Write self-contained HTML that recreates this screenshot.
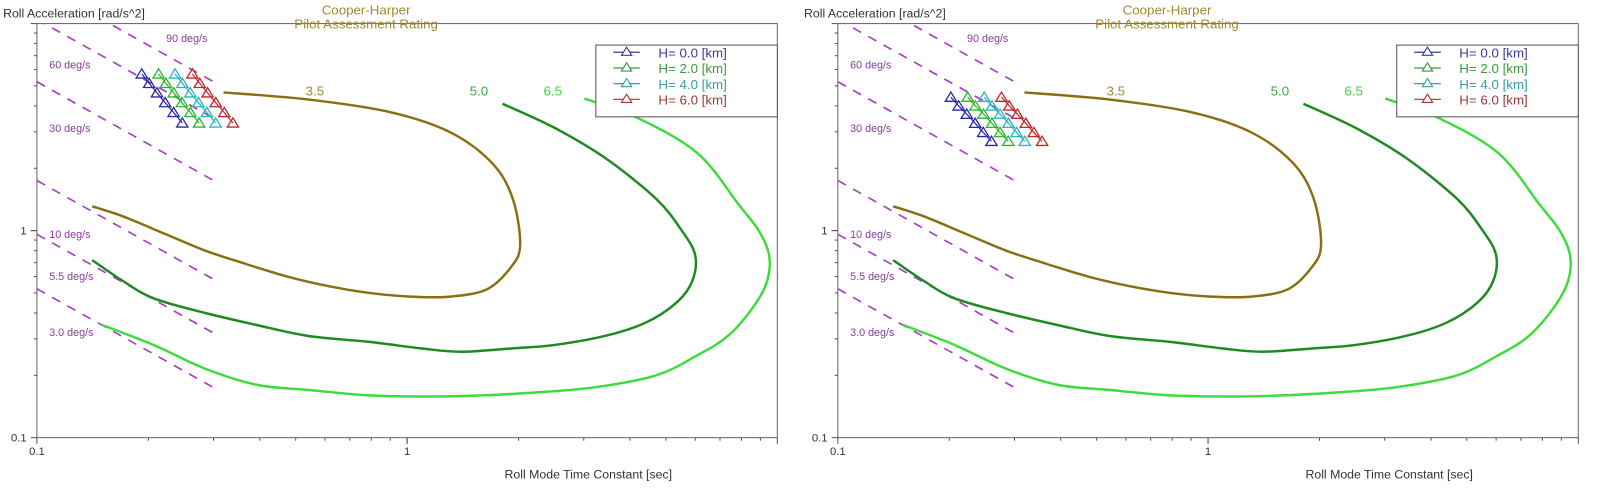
<!DOCTYPE html>
<html><head><meta charset="utf-8"><style>
html,body{margin:0;padding:0;background:#fff;}
svg{display:block;font-family:"Liberation Sans",sans-serif;}
</style></head><body>
<svg id="chart" width="1608" height="494" viewBox="0 0 1568 482" preserveAspectRatio="none" xmlns="http://www.w3.org/2000/svg"></svg>
<script>
// ---- data ----
const xTicks = [0.1, 1];
const yTicks = [0.1, 1];
const rateLabels = ["90 deg/s","60 deg/s","30 deg/s","10 deg/s","5.5 deg/s","3.0 deg/s"];
const rateValuesDeg = [90, 60, 30, 10, 5.5, 3.0];
const contourLabels = ["3.5","5.0","6.5"];
const contour35Tau = [0.319,0.539,0.897,1.31,1.70,1.93,2.02,1.90,1.64,1.31,1.02,0.790,0.612,0.474,0.367,0.285,0.220,0.171,0.141];
const contour35Lp  = [4.65,4.30,3.74,2.98,2.11,1.42,0.85,0.66,0.52,0.48,0.48,0.50,0.54,0.60,0.69,0.80,0.97,1.17,1.31];
const contour50Tau = [1.81,2.49,3.43,4.71,5.52,6.00,5.89,5.35,4.42,3.43,2.49,1.93,1.40,1.09,0.790,0.539,0.392,0.285,0.207,0.171,0.141];
const contour50Lp  = [4.10,3.15,2.24,1.42,1.00,0.76,0.57,0.45,0.36,0.31,0.28,0.27,0.26,0.27,0.29,0.31,0.35,0.40,0.47,0.57,0.72];
const contour65Tau = [3.01,4.15,6.08,7.85,8.91,9.50,9.38,8.63,7.36,6.08,4.71,3.21,2.19,1.59,1.16,0.790,0.539,0.392,0.285,0.207,0.150];
const contour65Lp  = [4.34,3.53,2.37,1.34,1.00,0.76,0.57,0.43,0.31,0.25,0.20,0.175,0.165,0.160,0.158,0.160,0.170,0.180,0.215,0.28,0.35];
const altitudes = ["H= 0.0 [km]","H= 2.0 [km]","H= 4.0 [km]","H= 6.0 [km]"];
const leftTriTau = [0.192,0.201,0.211,0.222,0.234,0.247];
const leftTriLp  = [5.71,5.14,4.63,4.15,3.72,3.31];
const rightTriTau = [0.202,0.212,0.223,0.235,0.247,0.260];
const rightTriLp  = [4.41,4.00,3.65,3.30,2.98,2.70];
const seriesFactor = [1.0, 1.11, 1.23, 1.37];

// ---- styles ----
const triColors = ["#2a2aa8","#2cb82c","#2ab8c0","#c02a2a"];
const legColors = ["#3a3a9a","#3a9a3a","#3a9aa8","#9a3a3a"];
const contourColors = ["#8a6e12","#1f8a1f","#3ddc3d"];
const labelColors = ["#a08a30","#3aaa3a","#4acc4a"];
const svg = document.getElementById('chart');
const NS = "http://www.w3.org/2000/svg";
function el(tag, attrs, parent){const e=document.createElementNS(NS,tag);for(const k in attrs)e.setAttribute(k,attrs[k]);(parent||svg).appendChild(e);return e;}
function smoothPath(pts){
  let d='M'+pts[0][0].toFixed(1)+','+pts[0][1].toFixed(1);
  for(let i=0;i<pts.length-1;i++){
    const p0=pts[Math.max(0,i-1)],p1=pts[i],p2=pts[i+1],p3=pts[Math.min(pts.length-1,i+2)];
    const c1=[p1[0]+(p2[0]-p0[0])/6,p1[1]+(p2[1]-p0[1])/6];
    const c2=[p2[0]-(p3[0]-p1[0])/6,p2[1]-(p3[1]-p1[1])/6];
    d+=`C${c1[0].toFixed(1)},${c1[1].toFixed(1)} ${c2[0].toFixed(1)},${c2[1].toFixed(1)} ${p2[0].toFixed(1)},${p2[1].toFixed(1)}`;
  }
  return d;
}

const X0=36, X1=758, Y0=427, Y1=23;
function drawPanel(off, triTau, triLp, pid){
  const g = el('g',{transform:`translate(${off},0)`});
  
  
  const sx = v => X0 + (Math.log10(v)+1)/2*(X1-X0);
  const sy = v => Y0 - (Math.log10(v)+1)/2*(Y0-Y1);
  const clip = el('clipPath',{id:'clip'+pid},g);
  el('rect',{x:X0,y:Y1,width:X1-X0,height:Y0-Y1},clip);
  const fr = el('rect',{x:X0,y:Y1,width:X1-X0,height:Y0-Y1,fill:'none',stroke:'#666','stroke-width':1},g);
  
  
  for(let d=-1; d<1; d++){
    for(let m=1;m<=10;m++){
      const v=m*Math.pow(10,d); const len=(m===1||m===10)?6:3;
      el('line',{x1:sx(v),x2:sx(v),y1:Y0,y2:Y0+len,stroke:'#555'},g);
      el('line',{x1:X0,x2:X0-len,y1:sy(v),y2:sy(v),stroke:'#555'},g);
    }
  }
  xTicks.forEach(t=>{const tx=el('text',{x:sx(t),y:Y0+17,'font-size':11,fill:'#333','text-anchor':'middle'},g);tx.textContent=t;
    });
  yTicks.forEach(t=>{const tx=el('text',{x:X0-10,y:sy(t)+4,'font-size':11,fill:'#333','text-anchor':'end'},g);tx.textContent=t;
    });
  const yt=el('text',{x:3,y:17,'font-size':12,fill:'#333'},g);yt.textContent='Roll Acceleration [rad/s^2]';
  
  const xt=el('text',{x:492,y:467,'font-size':12,fill:'#333'},g);xt.textContent='Roll Mode Time Constant [sec]';
  
  const pg = el('g',{'clip-path':`url(#clip${pid})`},g);
  rateValuesDeg.forEach((p,i)=>{
    const pr=p*Math.PI/180;
    const ln=el('line',{x1:sx(0.1),y1:sy(pr/0.1),x2:sx(0.3),y2:sy(pr/0.3),stroke:'#a63cc0','stroke-width':1.6,'stroke-dasharray':'9,8'},pg);
    
  });
  const rpos=[[162,41],[48,67],[48,129],[48,232],[48,273],[48,328]];
  rateLabels.forEach((t,i)=>{const tx=el('text',{x:rpos[i][0],y:rpos[i][1],'font-size':10.5,fill:'#8a3aa0'},g);tx.textContent=t;
    });
  [[contour35Tau,contour35Lp],[contour50Tau,contour50Lp],[contour65Tau,contour65Lp]].forEach((c,i)=>{
    const pts=c[0].map((t,k)=>[sx(t),sy(c[1][k])]);
    const p=el('path',{d:smoothPath(pts),fill:'none',stroke:contourColors[i],'stroke-width':2.4,'stroke-linejoin':'round'},pg);
    
  });
  const cpos=[[298,93],[458,93],[530,93]];
  contourLabels.forEach((t,i)=>{const tx=el('text',{x:cpos[i][0],y:cpos[i][1],'font-size':13,fill:labelColors[i]},g);tx.textContent=t;
    });
  const t1=el('text',{x:357,y:14,'font-size':13,fill:'#a08a30','text-anchor':'middle'},g);t1.textContent='Cooper-Harper';
  
  const t2=el('text',{x:357,y:28,'font-size':13,fill:'#a08a30','text-anchor':'middle'},g);t2.textContent='Pilot Assessment Rating';
  
  seriesFactor.forEach((f,s)=>{
    const d=triTau.map((t,k)=>(k?'L':'M')+sx(t*f).toFixed(1)+','+sy(triLp[k]).toFixed(1)).join(' ');
    el('path',{d:d,fill:'none',stroke:triColors[s],'stroke-width':1.2},g);
    triTau.forEach((t,k)=>{
      const x=sx(t*f),y=sy(triLp[k]);
      const tr=el('path',{d:`M${x},${y-5}L${x+5.5},${y+4}L${x-5.5},${y+4}Z`,fill:'none',stroke:triColors[s],'stroke-width':1.3},g);
      
    });
  });
  const lg=el('g',{},g);
  
  el('rect',{x:581,y:44,width:177,height:70,fill:'#fff',stroke:'#555'},lg);
  altitudes.forEach((a,i)=>{
    const y=51+i*15.3;
    el('line',{x1:598,x2:624,y1:y,y2:y,stroke:legColors[i],'stroke-width':1.2},lg);
    el('path',{d:`M611,${y-5}L616,${y+3}L606,${y+3}Z`,fill:'#fff',stroke:legColors[i],'stroke-width':1.1},lg);
    const tx=el('text',{x:642,y:y+5,'font-size':13,fill:legColors[i]},lg);tx.textContent=a;
    
  });
}
drawPanel(0, leftTriTau, leftTriLp, 'left-panel');
drawPanel(781, rightTriTau, rightTriLp, 'right-panel');
</script>
</body></html>
